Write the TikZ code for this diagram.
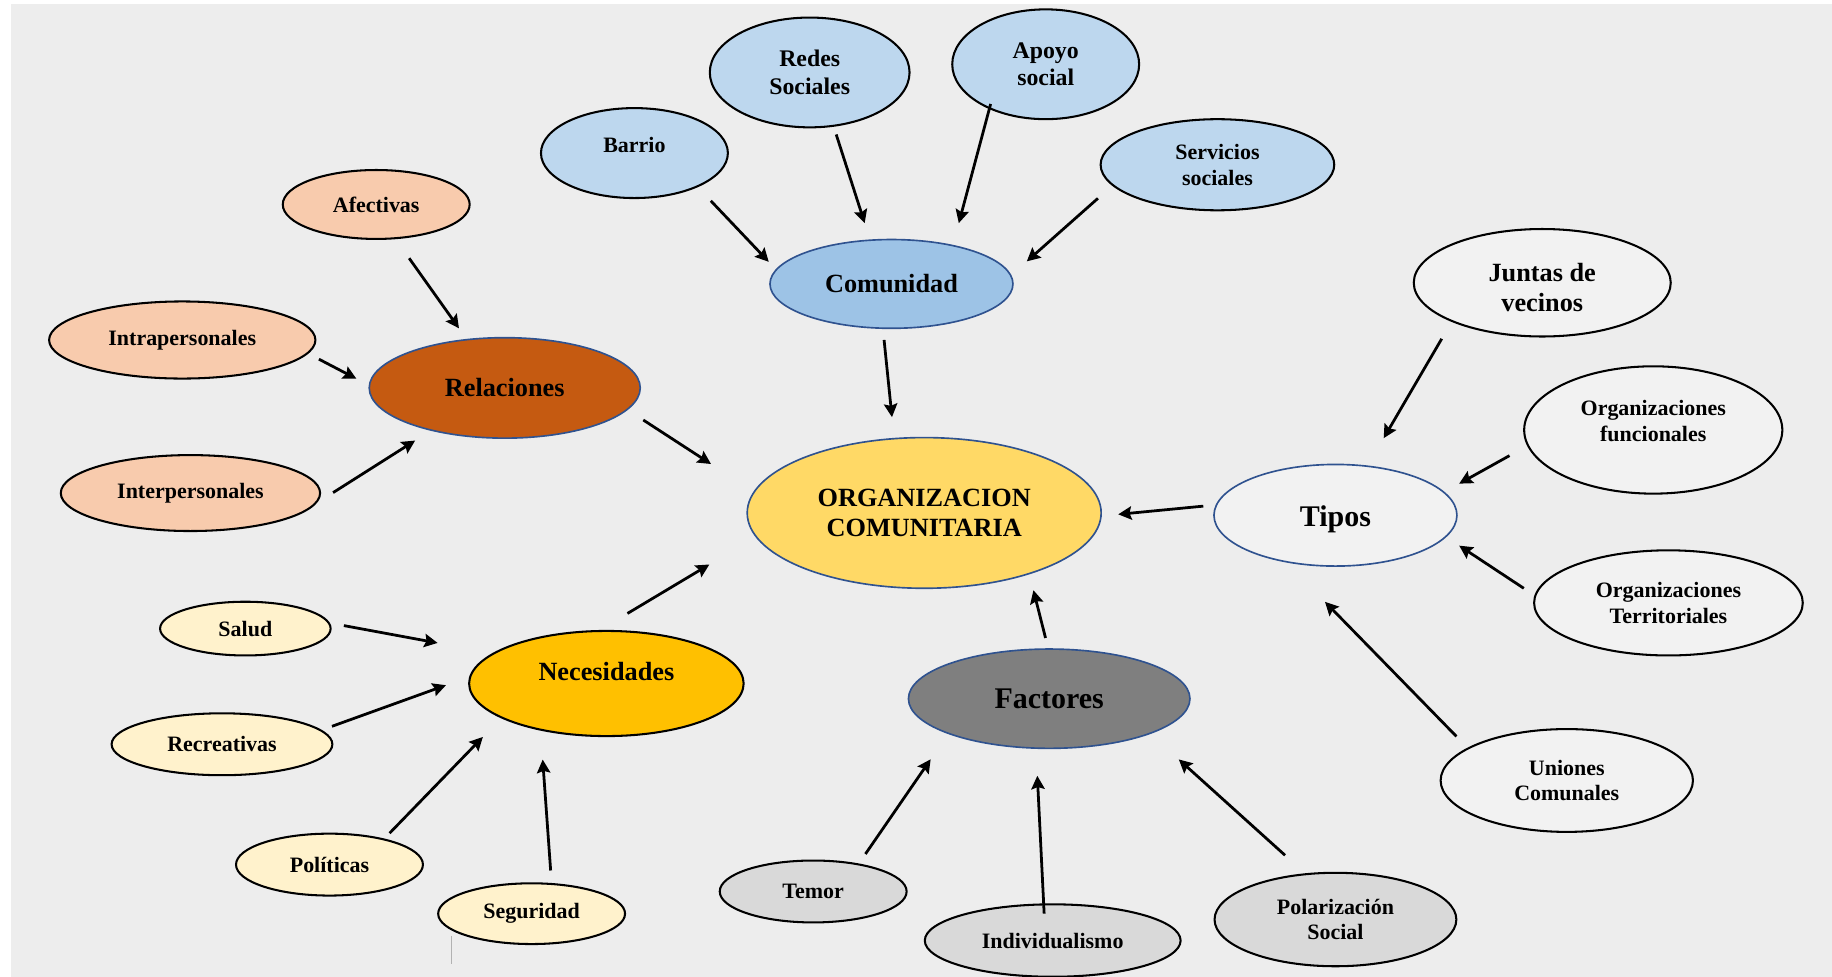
\documentclass[tikz,border=0pt]{standalone}
\usepackage{fontspec}
\setmainfont{Liberation Serif}
\usetikzlibrary{arrows.meta,shapes.geometric}
\definecolor{bgray}{HTML}{EDEDED}
\definecolor{blu}{HTML}{BDD7EE}
\definecolor{bluhub}{HTML}{9DC3E6}
\definecolor{orghub}{HTML}{FFD966}
\definecolor{relhub}{HTML}{C55A11}
\definecolor{peach}{HTML}{F8CBAD}
\definecolor{nechub}{HTML}{FFC000}
\definecolor{cream}{HTML}{FFF2CC}
\definecolor{fachub}{HTML}{7F7F7F}
\definecolor{lgray}{HTML}{D9D9D9}
\definecolor{wgray}{HTML}{F2F2F2}
\definecolor{hubline}{HTML}{2F528F}

\begin{document}
\begin{tikzpicture}[
  x=0.02cm,y=-0.02cm,
  oval/.style={ellipse,draw,line width=1pt,inner sep=0pt,outer sep=0pt,align=center,
    font=\bfseries\fontsize{10.7}{12.5}\selectfont},
  hub/.style={oval,draw=hubline,line width=0.8pt},
  mid/.style={font=\bfseries\fontsize{11.6}{13.6}\selectfont},
  big/.style={font=\bfseries\fontsize{12.8}{14.7}\selectfont},
  huge/.style={font=\bfseries\fontsize{14.6}{17}\selectfont},
  arr/.style 2 args={-{Stealth[length=6.5pt,width=6.5pt,inset=1pt]},line width=1.35pt,
    shorten <=#1*0.02cm,shorten >=#2*0.02cm}
]
\useasboundingbox (0,0) rectangle (1568,836);
\fill[white] (0,0) rectangle (1568,836);
\fill[bgray] (9,3) rectangle (1568,836);

% centro
\node[hub,big,fill=orghub,minimum width=6.06cm,minimum height=2.58cm] (org) at (791,439) {ORGANIZACION\\COMUNITARIA};

% comunidad
\node[hub,big,fill=bluhub,minimum width=4.16cm,minimum height=1.52cm] (com) at (763,243) {Comunidad};
\node[oval,fill=blu,minimum width=3.2cm,minimum height=1.54cm,text depth=8pt] (barrio) at (543,131) {Barrio};
\node[oval,mid,fill=blu,minimum width=3.42cm,minimum height=1.88cm] (redes) at (693,62) {Redes\\Sociales};
\node[oval,mid,fill=blu,minimum width=3.2cm,minimum height=1.88cm] (apoyo) at (895,55) {Apoyo\\social};
\node[oval,fill=blu,minimum width=4cm,minimum height=1.56cm] (serv) at (1042,141) {Servicios\\sociales};

% relaciones
\node[hub,big,fill=relhub,minimum width=4.64cm,minimum height=1.72cm] (rel) at (432,332) {Relaciones};
\node[oval,fill=peach,minimum width=3.2cm,minimum height=1.18cm] (afec) at (322,175) {Afectivas};
\node[oval,fill=peach,minimum width=4.56cm,minimum height=1.32cm] (intra) at (156,291) {Intrapersonales};
\node[oval,fill=peach,minimum width=4.44cm,minimum height=1.3cm] (inter) at (163,422) {Interpersonales};

% necesidades
\node[oval,big,fill=nechub,minimum width=4.7cm,minimum height=1.8cm,text depth=11.7pt] (nec) at (519,585) {Necesidades};
\node[oval,fill=cream,minimum width=2.92cm,minimum height=0.92cm] (salud) at (210,538) {Salud};
\node[oval,fill=cream,minimum width=3.78cm,minimum height=1.06cm] (recr) at (190,637) {Recreativas};
\node[oval,fill=cream,minimum width=3.2cm,minimum height=1.06cm] (pol) at (282,740) {Políticas};
\node[oval,fill=cream,minimum width=3.2cm,minimum height=1.04cm] (seg) at (455,782) {Seguridad};

% factores
\node[hub,huge,fill=fachub,minimum width=4.82cm,minimum height=1.7cm] (fac) at (898,598) {Factores};
\node[oval,fill=lgray,minimum width=3.2cm,minimum height=1.06cm] (temor) at (696,763) {Temor};
\node[oval,fill=lgray,minimum width=4.38cm,minimum height=1.24cm] (indiv) at (901,805) {Individualismo};
\node[oval,fill=lgray,minimum width=4.14cm,minimum height=1.6cm] (polar) at (1143,787) {Polarización\\Social};

% tipos
\node[hub,huge,fill=wgray,minimum width=4.16cm,minimum height=1.74cm,text height=14.3pt] (tipos) at (1143,441) {Tipos};
\node[oval,big,fill=wgray,minimum width=4.4cm,minimum height=1.84cm,text height=28pt] (juntas) at (1320,242) {Juntas de\\vecinos};
\node[oval,fill=wgray,minimum width=4.42cm,minimum height=2.18cm,text depth=9pt] (orgf) at (1415,368) {Organizaciones\\funcionales};
\node[oval,fill=wgray,minimum width=4.6cm,minimum height=1.8cm] (orgt) at (1428,516) {Organizaciones\\Territoriales};
\node[oval,fill=wgray,minimum width=4.32cm,minimum height=1.76cm] (uniones) at (1341,668) {Uniones\\Comunales};

% flechas
\draw[arr={17}{9.4}] (barrio.332) -- (com.173);
\draw[arr={7.8}{15.3}] (redes.294) -- (com.116);
\draw[arr={-3.7}{19.9}] (apoyo.218) -- (com.32);
\draw[arr={17.1}{18.3}] (serv.191) -- (com.4);
\draw[arr={10.1}{18.5}] (com.259) -- (org.112);

\draw[arr={21}{11.9}] (afec.299) -- (rel.128);
\draw[arr={11.1}{12.5}] (intra.354) -- (rel.179);
\draw[arr={32}{16.6}] (inter.350) -- (rel.210);
\draw[arr={16.5}{44}] (rel.350) -- (org.173);

\draw[arr={13.3}{49}] (salud.4) -- (nec.165);
\draw[arr={10.3}{22.2}] (recr.8) -- (nec.177);
\draw[arr={7.4}{23.2}] (pol.25) -- (nec.198);
\draw[arr={11.6}{25.7}] (seg.56) -- (nec.215);
\draw[arr={29.3}{46.6}] (nec.99) -- (org.188);

\draw[arr={9.8}{14.7}] (fac.91) -- (org.330);
\draw[arr={10.8}{26.9}] (temor.31) -- (fac.199);
\draw[arr={-7.9}{23.7}] (indiv.104) -- (fac.255);
\draw[arr={24.2}{33.3}] (polar.123) -- (fac.341);

\draw[arr={11.4}{14.8}] (tipos.175) -- (org.359);
\draw[arr={17.6}{27.8}] (juntas.203) -- (tipos.57);
\draw[arr={18.1}{15.1}] (orgf.187) -- (tipos.12);
\draw[arr={11.8}{13.9}] (orgt.177) -- (tipos.349);
\draw[arr={14.4}{48.1}] (uniones.162) -- (tipos.223);

\draw[gray!60,line width=0.4pt] (386,801) -- (386,825);
\end{tikzpicture}
\end{document}
